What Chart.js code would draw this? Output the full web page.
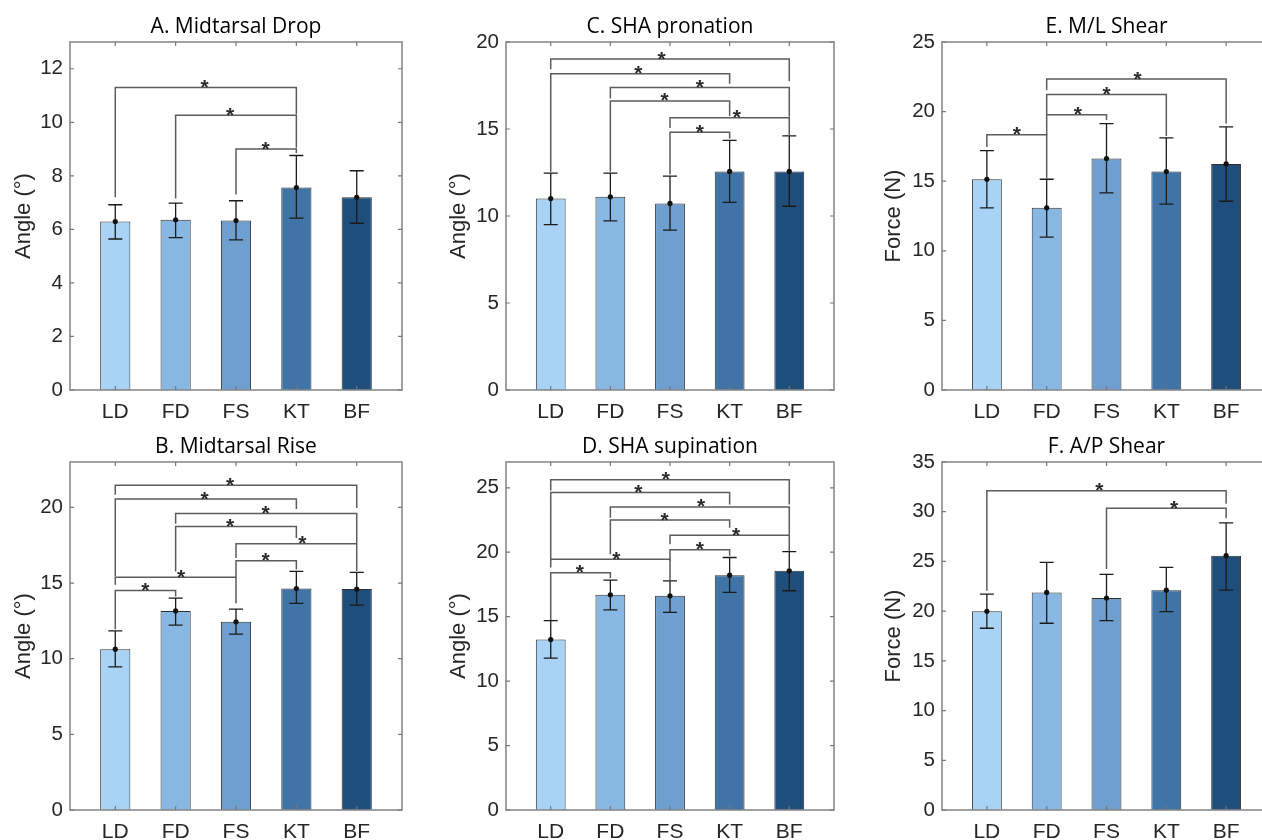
<!DOCTYPE html>
<html><head><meta charset="utf-8">
<script src="https://cdn.jsdelivr.net/npm/chart.js@4/dist/chart.umd.min.js"></script>
<style>
html,body{margin:0;padding:0;background:#fff}
body{width:1262px;height:840px;overflow:hidden;position:relative}
.p{position:absolute}
</style></head><body>
<div class="p" style="left:0;top:0"><canvas id="cA" width="420" height="420"></canvas></div>
<div class="p" style="left:420px;top:0"><canvas id="cC" width="420" height="420"></canvas></div>
<div class="p" style="left:842px;top:0"><canvas id="cE" width="440" height="420"></canvas></div>
<div class="p" style="left:0;top:420px"><canvas id="cB" width="420" height="420"></canvas></div>
<div class="p" style="left:420px;top:420px"><canvas id="cD" width="420" height="420"></canvas></div>
<div class="p" style="left:842px;top:420px"><canvas id="cF" width="440" height="420"></canvas></div>
<script>
// ---------- data ----------
const categories = ['LD', 'FD', 'FS', 'KT', 'BF'];
const barColors = ['#a9d3f6', '#89b7e3', '#6f9fce', '#4174a6', '#1f4e7c'];

// A. Midtarsal Drop
const dropMean  = [6.29, 6.36, 6.33, 7.56, 7.20];
const dropUpper = [6.92, 6.98, 7.07, 8.76, 8.19];
const dropLower = [5.64, 5.69, 5.61, 6.42, 6.23];
// [from, to, level, leftLegEnd, rightLegEnd, starX]
const dropBrackets = [
  [1, 4, 11.30, 7.20, 10.30, 2.48],
  [2, 4, 10.26, 7.15, 9.05, 2.90],
  [3, 4, 9.00, 7.30, 8.85, 3.49]
];

// B. Midtarsal Rise
const riseMean  = [10.63, 13.16, 12.44, 14.64, 14.60];
const riseUpper = [11.84, 14.00, 13.27, 15.77, 15.70];
const riseLower = [9.46, 12.22, 11.62, 13.65, 13.54];
const riseBrackets = [
  [1, 5, 21.46, 20.84, 19.96, 2.90],
  [1, 4, 20.55, 15.44, 19.89, 2.48],
  [2, 5, 19.60, 18.92, 17.64, 3.49],
  [2, 4, 18.74, 15.77, 17.97, 2.90],
  [3, 5, 17.60, 16.65, 15.80, 4.10],
  [3, 4, 16.47, 15.40, 15.90, 3.49],
  [1, 3, 15.39, 14.88, 13.67, 2.09],
  [1, 2, 14.51, 11.95, 14.11, 1.50]
];

// C. SHA pronation
const pronMean  = [11.00, 11.10, 10.72, 12.56, 12.56];
const pronUpper = [12.46, 12.46, 12.29, 14.35, 14.60];
const pronLower = [9.51, 9.72, 9.19, 10.78, 10.56];
const pronBrackets = [
  [1, 5, 19.02, 18.43, 17.74, 2.86],
  [1, 4, 18.18, 12.55, 17.60, 2.47],
  [2, 5, 17.38, 16.75, 15.70, 3.50],
  [2, 4, 16.61, 12.55, 15.75, 2.91],
  [3, 5, 15.64, 15.06, 14.64, 4.12],
  [3, 4, 14.81, 12.38, 14.45, 3.50]
];

// D. SHA supination
const supMean  = [13.22, 16.70, 16.62, 18.22, 18.56];
const supUpper = [14.69, 17.84, 17.78, 19.59, 20.05];
const supLower = [11.78, 15.52, 15.34, 16.88, 17.01];
const supBrackets = [
  [1, 5, 25.62, 24.79, 23.71, 2.93],
  [1, 4, 24.64, 19.38, 23.71, 2.47],
  [2, 5, 23.51, 22.68, 21.26, 3.52],
  [2, 4, 22.50, 19.85, 21.90, 2.91],
  [3, 5, 21.31, 20.62, 20.10, 4.11],
  [3, 4, 20.20, 19.33, 19.72, 3.50],
  [1, 3, 19.46, 18.81, 17.84, 2.10],
  [1, 2, 18.40, 14.74, 18.00, 1.49]
];

// E. M/L Shear
const mlMean  = [15.14, 13.09, 16.63, 15.69, 16.24];
const mlUpper = [17.20, 15.14, 19.14, 18.11, 18.90];
const mlLower = [13.09, 10.98, 14.16, 13.35, 13.56];
const mlBrackets = [
  [1, 2, 18.33, 17.46, 15.20, 1.50],
  [2, 3, 19.78, 18.33, 19.40, 2.52],
  [2, 4, 21.22, 19.78, 18.25, 3.00],
  [2, 5, 22.34, 21.53, 19.14, 3.52]
];

// F. A/P Shear
const apMean  = [19.99, 21.88, 21.31, 22.11, 25.58];
const apUpper = [21.71, 24.91, 23.70, 24.40, 28.88];
const apLower = [18.28, 18.78, 19.05, 19.96, 22.11];
const apBrackets = [
  [1, 5, 32.11, 22.05, 30.80, 2.88],
  [3, 5, 30.36, 24.23, 29.35, 4.13]
];

// ---------- drawing ----------
const TICK_FONT = '"Liberation Sans", Arial, sans-serif';
const TITLE_FONT = '"Open Sans", sans-serif';

function makePanel(id, p) {
  const extras = {
    id: 'extras_' + id,
    afterDatasetsDraw(chart) {
      const ctx = chart.ctx, xs = chart.scales.x, ys = chart.scales.y;
      ctx.save();
      // error bars
      ctx.strokeStyle = '#1a1a1a'; ctx.lineWidth = 1.3; ctx.fillStyle = '#111';
      p.mean.forEach((m, i) => {
        const x = xs.getPixelForValue(i + 1);
        const yt = ys.getPixelForValue(p.upper[i]);
        const yb = ys.getPixelForValue(p.lower[i]);
        ctx.beginPath();
        ctx.moveTo(x, yt); ctx.lineTo(x, yb);
        ctx.moveTo(x - 7, yt); ctx.lineTo(x + 7, yt);
        ctx.moveTo(x - 7, yb); ctx.lineTo(x + 7, yb);
        ctx.stroke();
        ctx.beginPath(); ctx.arc(x, ys.getPixelForValue(m), 2.6, 0, Math.PI * 2); ctx.fill();
      });
      // significance brackets
      ctx.strokeStyle = '#5c5c5c'; ctx.lineWidth = 1.5;
      ctx.fillStyle = '#2a2a2a';
      ctx.font = 'bold 21px ' + TICK_FONT; ctx.textAlign = 'center'; ctx.textBaseline = 'alphabetic';
      p.brackets.forEach(b => {
        const x1 = xs.getPixelForValue(b[0]), x2 = xs.getPixelForValue(b[1]);
        const yl = ys.getPixelForValue(b[2]);
        ctx.beginPath();
        ctx.moveTo(x1, ys.getPixelForValue(b[3]));
        ctx.lineTo(x1, yl); ctx.lineTo(x2, yl);
        ctx.lineTo(x2, ys.getPixelForValue(b[4]));
        ctx.stroke();
        ctx.fillText('*', xs.getPixelForValue(b[5]), yl + 6.5);
      });
      ctx.restore();
    },
    afterDraw(chart) {
      const ctx = chart.ctx, a = chart.chartArea, xs = chart.scales.x, ys = chart.scales.y;
      ctx.save();
      ctx.strokeStyle = '#8a8a8a'; ctx.lineWidth = 1.6;
      ctx.strokeRect(a.left, a.top, a.right - a.left, a.bottom - a.top);
      ctx.lineWidth = 1.2; ctx.strokeStyle = '#777';
      ctx.beginPath();
      ys.ticks.forEach(t => {
        const y = ys.getPixelForValue(t.value);
        ctx.moveTo(a.left, y); ctx.lineTo(a.left + 4, y);
        ctx.moveTo(a.right, y); ctx.lineTo(a.right - 4, y);
      });
      xs.ticks.forEach(t => {
        const x = xs.getPixelForValue(t.value);
        ctx.moveTo(x, a.bottom); ctx.lineTo(x, a.bottom - 4);
        ctx.moveTo(x, a.top); ctx.lineTo(x, a.top + 4);
      });
      ctx.stroke();
      ctx.restore();
    }
  };

  return new Chart(document.getElementById(id), {
    type: 'bar',
    data: {
      datasets: [{
        data: p.mean.map((v, i) => ({ x: i + 1, y: v })),
        backgroundColor: barColors,
        borderColor: '#2f2f2f',
        borderWidth: 1,
        barPercentage: 0.5,
        categoryPercentage: 1
      }]
    },
    options: {
      responsive: false,
      animation: false,
      devicePixelRatio: 1,
      layout: { padding: { left: 0, right: p.padRight, top: 0, bottom: 0 } },
      plugins: {
        legend: { display: false },
        tooltip: { enabled: false },
        title: {
          display: true, text: p.title, fullSize: false,
          color: '#000',
          font: { family: TITLE_FONT, size: 21, weight: 'normal', lineHeight: 1.2 },
          padding: { top: 14.4, bottom: 2.4 }
        }
      },
      scales: {
        x: {
          type: 'linear', min: 0.25, max: 5.75, offset: false,
          grid: { display: false, drawTicks: false },
          border: { display: false },
          afterBuildTicks: s => { s.ticks = categories.map((c, i) => ({ value: i + 1 })); },
          afterFit: s => { s.height = 30; },
          ticks: {
            autoSkip: false, maxRotation: 0, padding: 10,
            color: '#262626', font: { family: TICK_FONT, size: 21 },
            callback: v => categories[Math.round(v) - 1] || ''
          }
        },
        y: {
          min: 0, max: p.ymax,
          grid: { display: false, drawTicks: false },
          border: { display: false },
          afterFit: s => { s.width = p.axisWidth; },
          ticks: {
            stepSize: p.step, includeBounds: false, padding: 7,
            color: '#262626', font: { family: TICK_FONT, size: 20.5 }
          },
          title: {
            display: true, text: p.ytitle, color: '#262626',
            font: { family: TICK_FONT, size: 22, lineHeight: 1.2 },
            padding: { top: p.ytitlePad, bottom: 0 }
          }
        }
      }
    },
    plugins: [extras]
  });
}

makePanel('cA', { title: 'A. Midtarsal Drop', ytitle: 'Angle (°)', mean: dropMean, upper: dropUpper, lower: dropLower, brackets: dropBrackets, ymax: 13, step: 2, axisWidth: 70, padRight: 18, ytitlePad: 10.8 });
makePanel('cC', { title: 'C. SHA pronation', ytitle: 'Angle (°)', mean: pronMean, upper: pronUpper, lower: pronLower, brackets: pronBrackets, ymax: 20, step: 5, axisWidth: 86, padRight: 6, ytitlePad: 25.8 });
makePanel('cE', { title: 'E. M/L Shear', ytitle: 'Force (N)', mean: mlMean, upper: mlUpper, lower: mlLower, brackets: mlBrackets, ymax: 25, step: 5, axisWidth: 100, padRight: 11, ytitlePad: 38.8 });
makePanel('cB', { title: 'B. Midtarsal Rise', ytitle: 'Angle (°)', mean: riseMean, upper: riseUpper, lower: riseLower, brackets: riseBrackets, ymax: 23, step: 5, axisWidth: 70, padRight: 18, ytitlePad: 10.8 });
makePanel('cD', { title: 'D. SHA supination', ytitle: 'Angle (°)', mean: supMean, upper: supUpper, lower: supLower, brackets: supBrackets, ymax: 27, step: 5, axisWidth: 86, padRight: 6, ytitlePad: 25.8 });
makePanel('cF', { title: 'F. A/P Shear', ytitle: 'Force (N)', mean: apMean, upper: apUpper, lower: apLower, brackets: apBrackets, ymax: 35, step: 5, axisWidth: 100, padRight: 11, ytitlePad: 38.8 });
</script>
</body></html>
